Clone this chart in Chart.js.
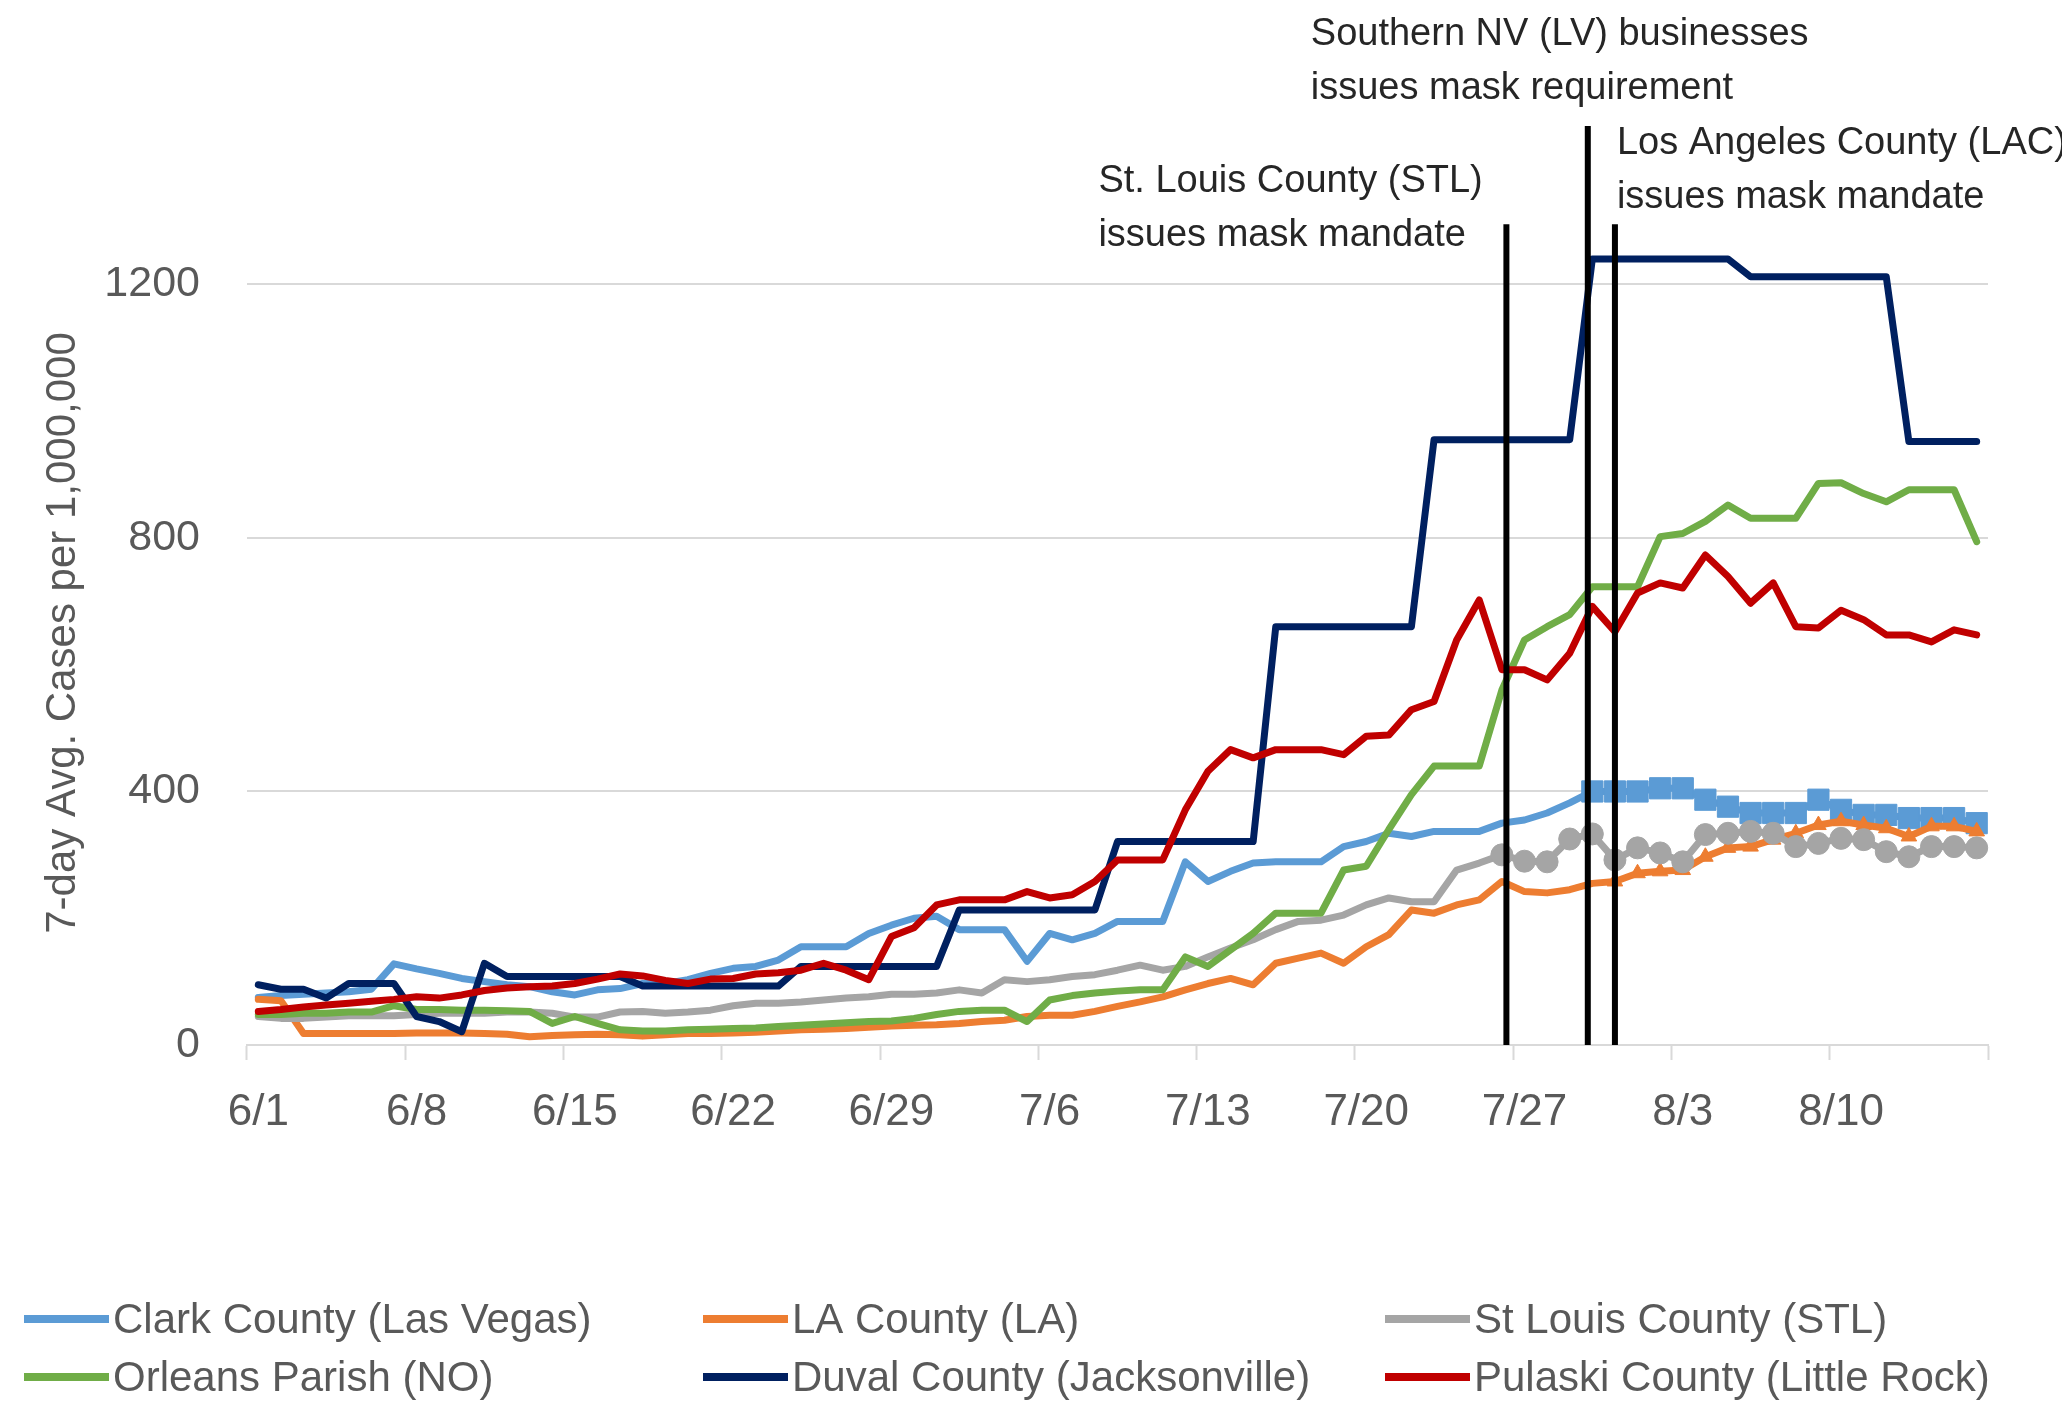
<!DOCTYPE html>
<html>
<head>
<meta charset="utf-8">
<script src="https://cdn.jsdelivr.net/npm/chart.js@4.4.1/dist/chart.umd.min.js"></script>
<style>
  html, body { margin: 0; padding: 0; background: #fff; }
  canvas { display: block; }
</style>
</head>
<body>
<canvas id="casesChart" width="2062" height="1401"></canvas>
<script>
// one entry per day, 6/1 .. 8/16
const days = [
  '6/1', '6/2', '6/3', '6/4', '6/5', '6/6', '6/7', '6/8', '6/9', '6/10',
  '6/11', '6/12', '6/13', '6/14', '6/15', '6/16', '6/17', '6/18', '6/19', '6/20',
  '6/21', '6/22', '6/23', '6/24', '6/25', '6/26', '6/27', '6/28', '6/29', '6/30',
  '7/1', '7/2', '7/3', '7/4', '7/5', '7/6', '7/7', '7/8', '7/9', '7/10',
  '7/11', '7/12', '7/13', '7/14', '7/15', '7/16', '7/17', '7/18', '7/19', '7/20',
  '7/21', '7/22', '7/23', '7/24', '7/25', '7/26', '7/27', '7/28', '7/29', '7/30',
  '7/31', '8/1', '8/2', '8/3', '8/4', '8/5', '8/6', '8/7', '8/8', '8/9',
  '8/10', '8/11', '8/12', '8/13', '8/14', '8/15', '8/16'
];
const tickDays = ['6/1', '6/8', '6/15', '6/22', '6/29', '7/6', '7/13', '7/20', '7/27', '8/3', '8/10'];
const yTicks = [0, 400, 800, 1200];

const seriesNames = [
  'Clark County (Las Vegas)', 'LA County (LA)', 'St Louis County (STL)',
  'Orleans Parish (NO)', 'Duval County (Jacksonville)', 'Pulaski County (Little Rock)'
];

const clark = [
  75, 78, 80, 82, 84, 88, 128, 120, 113, 105,
  100, 95, 92, 84, 79, 87, 89, 97, 97, 103,
  113, 121, 124, 134, 155, 155, 155, 176, 189, 200,
  203, 182, 182, 182, 132, 176, 166, 176, 195, 195,
  195, 289, 258, 274, 287, 289, 289, 289, 313, 321,
  334, 329, 337, 337, 337, 350, 355, 366, 382, 400,
  400, 400, 405, 405, 387, 376, 366, 366, 366, 387,
  371, 363, 363, 358, 358, 358, 350
];
const laCounty = [
  72, 70, 18, 18, 18, 18, 18, 19, 19, 19,
  18, 17, 13, 15, 16, 17, 16, 14, 16, 18,
  18, 19, 20, 22, 24, 25, 26, 28, 30, 31,
  32, 34, 37, 39, 45, 47, 47, 53, 61, 68,
  76, 87, 97, 105, 95, 129, 137, 145, 129, 155,
  174, 213, 208, 221, 229, 258, 242, 240, 245, 255,
  258, 271, 274, 276, 297, 311, 313, 324, 334, 347,
  353, 347, 342, 329, 345, 345, 337
];
const stLouis = [
  45, 42, 42, 44, 46, 46, 46, 48, 50, 50,
  50, 52, 52, 50, 44, 44, 52, 53, 50, 52,
  55, 62, 66, 66, 68, 71, 74, 76, 80, 80,
  82, 87, 82, 103, 100, 103, 108, 111, 118, 126,
  118, 124, 139, 153, 166, 182, 195, 197, 205, 221,
  232, 226, 226, 276, 287, 300, 290, 289, 325, 333,
  292, 311, 303, 289, 332, 334, 337, 334, 313, 318,
  326, 324, 305, 297, 313, 313, 311
];
const orleans = [
  48, 48, 50, 50, 52, 52, 62, 56, 56, 55,
  55, 54, 53, 34, 45, 34, 24, 22, 22, 24,
  25, 26, 27, 29, 31, 33, 35, 37, 38, 42,
  48, 53, 55, 55, 37, 71, 78, 82, 85, 87,
  87, 139, 124, 150, 176, 208, 208, 208, 276, 282,
  340, 395, 440, 440, 440, 560, 639, 660, 679, 723,
  723, 723, 802, 807, 826, 852, 831, 831, 831, 886,
  887, 870, 857, 876, 876, 876, 794
];
const duval = [
  95, 88, 88, 74, 97, 97, 97, 45, 37, 21,
  129, 108, 108, 108, 108, 108, 108, 93, 93, 93,
  93, 93, 93, 93, 124, 124, 124, 124, 124, 124,
  124, 213, 213, 213, 213, 213, 213, 213, 321, 321,
  321, 321, 321, 321, 321, 660, 660, 660, 660, 660,
  660, 660, 955, 955, 955, 955, 955, 955, 955, 1240,
  1240, 1240, 1240, 1240, 1240, 1240, 1212, 1212, 1212, 1212,
  1212, 1212, 1212, 952, 952, 952, 952
];
const pulaski = [
  53, 56, 60, 63, 66, 69, 72, 76, 74, 79,
  86, 90, 92, 93, 97, 104, 112, 109, 102, 97,
  104, 105, 112, 114, 118, 129, 118, 103, 171, 185,
  221, 229, 229, 229, 242, 232, 237, 258, 292, 292,
  292, 371, 432, 466, 453, 466, 466, 466, 458, 487,
  489, 529, 542, 639, 702, 592, 592, 576, 618, 692,
  652, 713, 729, 721, 773, 739, 697, 729, 660, 658,
  686, 671, 647, 647, 636, 655, 647
];

// mask mandates: position on the day axis (0 = 6/1), height of the marker line
const mandateAt = [55.2, 58.8, 60.0];
const mandateTop = [1295, 1450, 1295];
const mandateText = [
  ['St. Louis County (STL)', 'issues mask mandate'],
  ['Southern NV (LV) businesses', 'issues mask requirement'],
  ['Los Angeles County (LAC)', 'issues mask mandate']
];

const FONT = "'Liberation Sans', Arial, sans-serif";
const GREY = '#595959';
const colors = ['#5B9BD5', '#ED7D31', '#A5A5A5', '#70AD47', '#002060', '#C00000'];
const markers = [
  { style: 'rect', radius: 15, from: 59 },
  { style: 'triangle', radius: 9, from: 60 },
  { style: 'circle', radius: 11, from: 55 },
  null, null, null
];
const values = [clark, laCounty, stLouis, orleans, duval, pulaski];

const datasets = values.map((v, i) => {
  const m = markers[i];
  return {
    label: seriesNames[i],
    data: v,
    borderColor: colors[i],
    backgroundColor: colors[i],
    borderWidth: 7,
    borderJoinStyle: 'round',
    borderCapStyle: 'round',
    tension: 0,
    order: values.length - i,
    pointStyle: m ? m.style : 'circle',
    pointRadius: m ? (c => c.dataIndex >= m.from ? m.radius : 0) : 0,
    pointBorderWidth: 1,
    pointBackgroundColor: colors[i],
    pointBorderColor: colors[i],
    pointHoverRadius: 0
  };
});

// six legend entries in a 3 x 2 grid
const legendGrid = {
  id: 'legendGrid',
  afterDraw(chart, args, opts) {
    const ctx = chart.ctx;
    ctx.save();
    ctx.font = opts.size + 'px ' + FONT;
    ctx.textBaseline = 'middle';
    ctx.textAlign = 'left';
    ctx.lineCap = 'butt';
    chart.data.datasets.forEach((ds, i) => {
      const x = opts.cols[i % 3];
      const y = opts.rows[Math.floor(i / 3)];
      ctx.strokeStyle = ds.borderColor;
      ctx.lineWidth = opts.lineWidth;
      ctx.beginPath();
      ctx.moveTo(x, y);
      ctx.lineTo(x + opts.swatch, y);
      ctx.stroke();
      ctx.fillStyle = GREY;
      ctx.fillText(ds.label, x + opts.swatch + opts.gap, y + 2);
    });
    ctx.restore();
  }
};

// vertical marker lines with their notes
const mandateLines = {
  id: 'mandateLines',
  afterDatasetsDraw(chart, args, opts) {
    const { ctx, scales: { x, y } } = chart;
    ctx.save();
    ctx.font = opts.size + 'px ' + FONT;
    ctx.fillStyle = '#262626';
    ctx.textBaseline = 'alphabetic';
    ctx.textAlign = 'left';
    mandateAt.forEach((d, k) => {
      const px = x.getPixelForValue(d);
      const top = y.getPixelForValue(mandateTop[k]);
      ctx.strokeStyle = '#000';
      ctx.lineWidth = 6;
      ctx.beginPath();
      ctx.moveTo(px, y.getPixelForValue(0));
      ctx.lineTo(px, top);
      ctx.stroke();
      const note = opts.notes[k];
      mandateText[k].forEach((line, j) => {
        ctx.fillText(line, px + note.dx, top + note.dy + j * opts.lineGap);
      });
    });
    ctx.restore();
  }
};

new Chart(document.getElementById('casesChart'), {
  type: 'line',
  data: { labels: days, datasets: datasets },
  options: {
    responsive: false,
    animation: false,
    events: [],
    layout: { padding: { left: 0, top: 221, right: 74, bottom: 160 } },
    scales: {
      x: {
        type: 'category',
        offset: true,
        grid: {
          offset: true,
          drawOnChartArea: false,
          drawTicks: true,
          tickLength: 15,
          tickWidth: 2,
          tickColor: c => (c.index === undefined || c.index % 7 === 0) ? '#d9d9d9' : 'rgba(0,0,0,0)'
        },
        border: { display: true, color: '#d9d9d9', width: 2 },
        ticks: {
          autoSkip: false,
          maxRotation: 0,
          minRotation: 0,
          padding: 26,
          color: GREY,
          font: { family: FONT, size: 44 },
          callback: (v, i) => tickDays.includes(days[i]) ? days[i] : ''
        },
        afterFit: s => { s.height = 1401 - 160 - 1045; }
      },
      y: {
        min: 0,
        max: 1300,
        afterBuildTicks: s => { s.ticks = yTicks.map(v => ({ value: v })); },
        ticks: {
          padding: 47,
          color: GREY,
          font: { family: FONT, size: 43 },
          callback: v => String(v)
        },
        grid: { color: '#d9d9d9', lineWidth: 2, drawTicks: false },
        border: { display: false },
        title: {
          display: true,
          text: '7-day Avg. Cases per 1,000,000',
          color: GREY,
          font: { family: FONT, size: 42 },
          padding: { top: 38, bottom: 0 }
        },
        afterFit: s => { s.width = 247; }
      }
    },
    plugins: {
      legend: { display: false },
      tooltip: { enabled: false },
      legendGrid: { cols: [24, 703, 1385], rows: [1319, 1377], swatch: 85, gap: 4, lineWidth: 8, size: 42 },
      mandateLines: {
        size: 38,
        lineGap: 54,
        notes: [
          { dx: -408, dy: -32 },
          { dx: -277, dy: -81 },
          { dx: 2, dy: -70 }
        ]
      }
    }
  },
  plugins: [mandateLines, legendGrid]
});
</script>
</body>
</html>
